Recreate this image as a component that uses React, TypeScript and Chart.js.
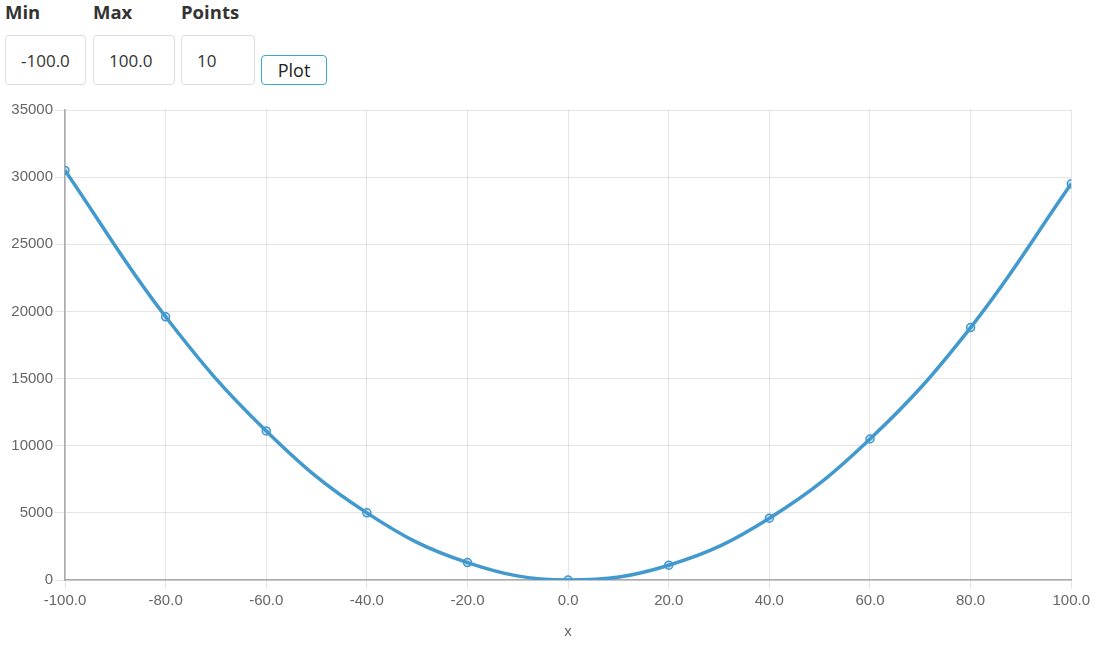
import React, { useEffect, useRef } from "react";
import { Chart, registerables } from "chart.js";

Chart.register(...registerables);

const xValues = [-100, -80, -60, -40, -20, 0, 20, 40, 60, 80, 100];
const yValues = [30500, 19600, 11100, 5000, 1300, 0, 1100, 4600, 10500, 18800, 29500];
const formMin = "-100.0";
const formMax = "100.0";
const formPoints = "10";

const labelStyle: React.CSSProperties = {
  position: "absolute",
  top: 0,
  fontFamily: "'Open Sans', sans-serif",
  fontWeight: 700,
  fontSize: 18.5,
  color: "#333",
  lineHeight: "24px",
};

const inputStyle: React.CSSProperties = {
  position: "absolute",
  top: 35,
  height: 50,
  boxSizing: "border-box",
  border: "1px solid #ddd",
  borderRadius: 4,
  fontFamily: "'Open Sans', sans-serif",
  fontSize: 17,
  color: "#333",
  display: "flex",
  alignItems: "center",
  paddingLeft: 15,
  background: "#fff",
};

const tickFont = { family: "'Liberation Sans', Arial, sans-serif", size: 15 };

export default function App() {
  const ref = useRef<HTMLCanvasElement | null>(null);
  useEffect(() => {
    if (!ref.current) return;
    const chart = new Chart(ref.current, {
      type: "line",
      data: {
        datasets: [
          {
            data: xValues.map((x, i) => ({ x, y: yValues[i] })),
            borderColor: "rgb(66,153,206)",
            backgroundColor: "rgba(66,153,206,0.2)",
            borderWidth: 3.5,
            pointRadius: 4,
            pointBorderWidth: 1.5,
            pointBorderColor: "rgb(66,153,206)",
            pointBackgroundColor: "rgba(66,153,206,0.3)",
            tension: 0.4,
            fill: false,
          },
        ],
      },
      options: {
        animation: false,
        responsive: false,
        maintainAspectRatio: false,
        layout: { padding: { left: 0, right: 0, top: 15, bottom: 0 } },
        plugins: { legend: { display: false }, tooltip: { enabled: false } },
        scales: {
          x: {
            type: "linear",
            min: -100,
            max: 100,
            ticks: {
              stepSize: 20,
              color: "#666",
              font: tickFont,
              callback: (v: any) => Number(v).toFixed(1),
              maxRotation: 0,
            },
            grid: { color: "rgba(0,0,0,0.1)", tickLength: 9 },
            border: { color: "#aaa", width: 1.5 },
            title: {
              display: true,
              text: "x",
              color: "#666",
              font: tickFont,
              padding: { top: 10, bottom: 7 },
            },
          },
          y: {
            min: 0,
            max: 35000,
            afterFit: (s: any) => {
              s.width = 65;
            },
            ticks: {
              stepSize: 5000,
              color: "#666",
              font: tickFont,
              padding: 2,
              callback: (v: any) => String(v),
            },
            grid: { color: "rgba(0,0,0,0.1)", tickLength: 10 },
            border: { color: "#aaa", width: 1.5 },
          },
        },
      },
    });
    return () => chart.destroy();
  }, []);

  return (
    <div style={{ position: "absolute", left: 0, top: 0, width: 1118, height: 653, background: "#fff", overflow: "hidden" }}>
      <div style={{ ...labelStyle, left: 5 }}>Min</div>
      <div style={{ ...labelStyle, left: 93 }}>Max</div>
      <div style={{ ...labelStyle, left: 181 }}>Points</div>
      <div style={{ ...inputStyle, left: 5, width: 81 }}>{formMin}</div>
      <div style={{ ...inputStyle, left: 93, width: 82 }}>{formMax}</div>
      <div style={{ ...inputStyle, left: 181, width: 74 }}>{formPoints}</div>
      <div
        style={{
          position: "absolute",
          left: 261,
          top: 55,
          width: 66,
          height: 30,
          boxSizing: "border-box",
          border: "1px solid #3ba9c9",
          borderRadius: 4,
          fontFamily: "'Open Sans', sans-serif",
          fontSize: 18,
          color: "#222",
          display: "flex",
          alignItems: "center",
          justifyContent: "center",
        }}
      >
        Plot
      </div>
      <canvas ref={ref} width={1093} height={553} style={{ position: "absolute", left: 0, top: 95, width: 1093, height: 553 }} />
    </div>
  );
}
